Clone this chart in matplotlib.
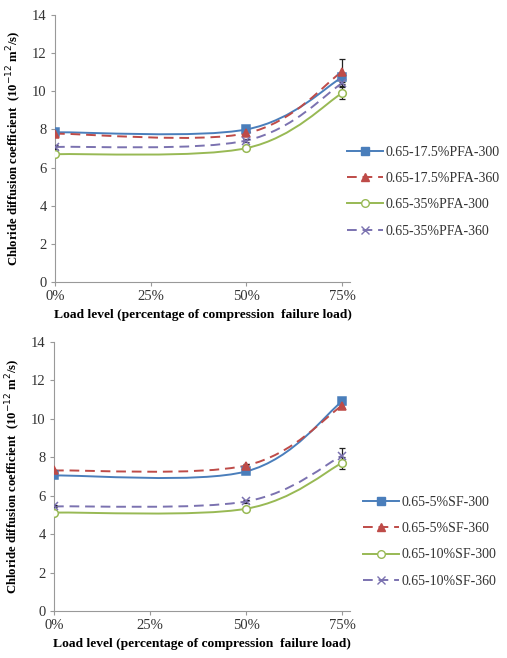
import numpy as np
import matplotlib
matplotlib.use("Agg")
from matplotlib import pyplot as plt
from matplotlib.path import Path
from matplotlib.patches import PathPatch
from matplotlib.lines import Line2D
from matplotlib.ticker import FuncFormatter

plt.rcParams['font.family'] = ['Liberation Serif', 'DejaVu Serif']

load = [0.0, 0.50, 0.75]
xticks = [0.0, 0.25, 0.50, 0.75]

# top panel (PFA)
pfa_names = ['0.65-17.5%PFA-300', '0.65-17.5%PFA-360', '0.65-35%PFA-300', '0.65-35%PFA-360']
pfa_vals = [
    [7.85, 8.0, 10.73],
    [7.78, 7.8, 11.03],
    [6.70, 7.02, 9.9],
    [7.08, 7.42, 10.42],
]
pfa_err = [
    [0.08, 0.08, 0.25],
    [0.08, 0.1, 0.65],
    [0.08, 0.08, 0.33],
    [0.08, 0.1, 0.15],
]

# bottom panel (SF)
sf_names = ['0.65-5%SF-300', '0.65-5%SF-360', '0.65-10%SF-300', '0.65-10%SF-360']
sf_vals = [
    [7.05, 7.26, 10.9],
    [7.31, 7.57, 10.68],
    [5.12, 5.32, 7.7],
    [5.44, 5.70, 8.08],
]
sf_err = [
    [0.05, 0.06, 0.12],
    [0.05, 0.06, 0.1],
    [0.05, 0.06, 0.3],
    [0.05, 0.08, 0.4],
]

colors = ['#4a7ebb', '#be4b48', '#98b954', '#7b72b0']
styles = ['-', (0, (5, 3)), '-', (0, (5, 3))]
markers = ['s', '^', 'o', 'x']
mfaces = ['#4a7ebb', '#be4b48', 'white', '#7b72b0']


def smooth_path(xs, ys):
    # Excel style smoothed line: cubic bezier through the points
    pts = np.column_stack([xs, ys])
    n = len(pts)
    verts = [pts[0]]
    codes = [Path.MOVETO]
    for i in range(n - 1):
        p0 = pts[i - 1] if i > 0 else pts[i]
        p1 = pts[i]
        p2 = pts[i + 1]
        p3 = pts[i + 2] if i + 2 < n else pts[i + 1]
        c1 = p1 + (p2 - p0) / 6.0
        c2 = p2 - (p3 - p1) / 6.0
        verts += [c1, c2, p2]
        codes += [Path.CURVE4] * 3
    return Path(verts, codes)


def draw_panel(ax, names, vals, errs):
    handles = []
    for k in range(4):
        patch = PathPatch(smooth_path(load, vals[k]), facecolor='none',
                          edgecolor=colors[k], lw=1.4, linestyle=styles[k], zorder=2)
        ax.add_patch(patch)
        ax.errorbar(load, vals[k], yerr=errs[k], fmt='none', ecolor='#222222',
                    elinewidth=0.9, capsize=2.5, capthick=0.9, zorder=3)
        ax.plot(load, vals[k], linestyle='none', marker=markers[k], ms=5.5,
                mfc=mfaces[k], mec=colors[k], mew=1.1, zorder=4)
        handles.append(Line2D([], [], color=colors[k], linestyle=styles[k], lw=1.4,
                              marker=markers[k], ms=5.5, mfc=mfaces[k], mec=colors[k]))
    ax.set_xlim(0, 0.771)
    ax.set_ylim(0, 14)
    ax.set_yticks(range(0, 15, 2))
    ax.set_xticks(xticks)
    ax.xaxis.set_major_formatter(FuncFormatter(lambda v, p: '%d%%' % round(v * 100)))
    for s in ['top', 'right']:
        ax.spines[s].set_visible(False)
    for s in ['left', 'bottom']:
        ax.spines[s].set_color('#999999')
        ax.spines[s].set_linewidth(0.8)
    ax.tick_params(length=3, width=0.8, color='#999999', labelsize=10.5,
                   labelcolor='#333333', pad=3)
    ax.set_ylabel('Chloride diffusion coefficient  (10$^{-12}$ m$^{2}$/s)',
                  fontsize=9.2, fontweight='bold', labelpad=6)
    ax.set_xlabel('Load level (percentage of compression  failure load)',
                  fontsize=9.7, fontweight='bold', labelpad=4)
    return handles


fig = plt.figure(figsize=(5.07, 6.58), dpi=100)
ax0 = fig.add_axes([0.1085, 0.5714, 0.582, 0.4058])
ax1 = fig.add_axes([0.1065, 0.0714, 0.584, 0.409])

h0 = draw_panel(ax0, pfa_names, pfa_vals, pfa_err)
h1 = draw_panel(ax1, sf_names, sf_vals, sf_err)

fig.legend(h0, pfa_names, loc='upper left', bbox_to_anchor=(0.665, 0.793),
           frameon=False, fontsize=10, handlelength=2.6, handletextpad=0.2,
           labelspacing=0.95, labelcolor='#333333', borderpad=0.2)
fig.legend(h1, sf_names, loc='upper left', bbox_to_anchor=(0.697, 0.261),
           frameon=False, fontsize=10, handlelength=2.6, handletextpad=0.2,
           labelspacing=0.95, labelcolor='#333333', borderpad=0.2)

fig.savefig('out.png', dpi=100)
